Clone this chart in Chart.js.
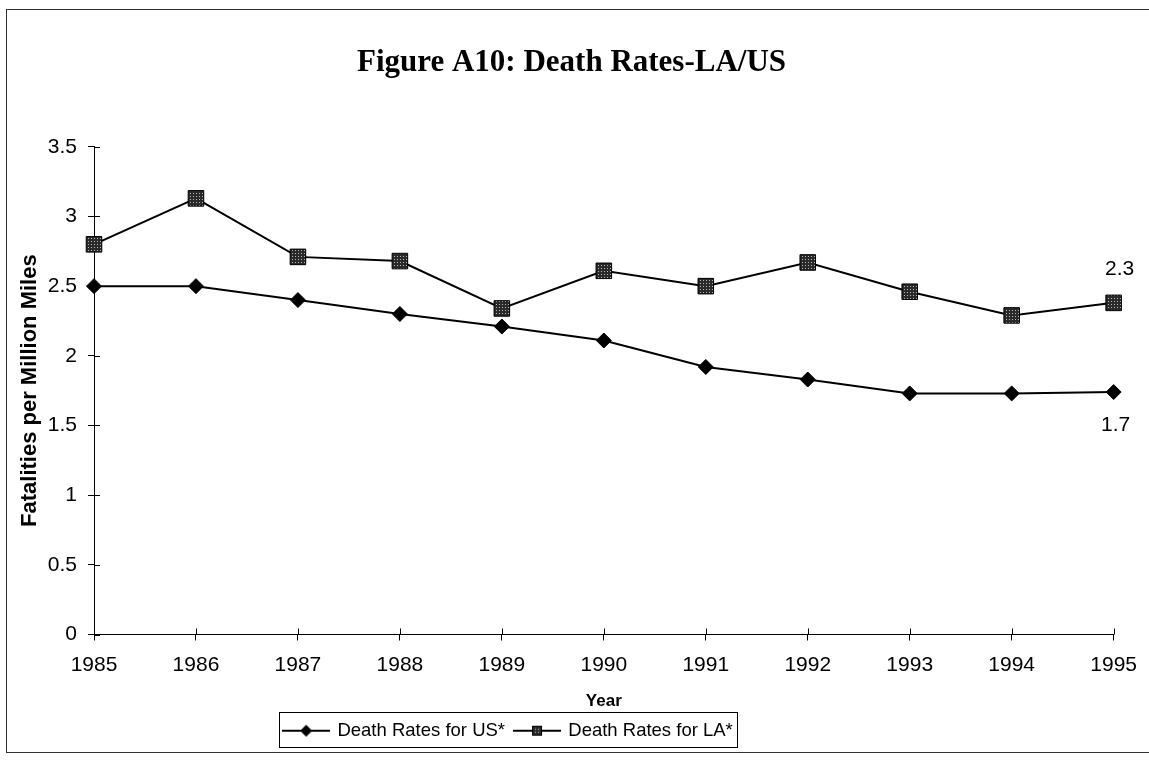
<!DOCTYPE html>
<html><head><meta charset="utf-8">
<script src="https://cdn.jsdelivr.net/npm/chart.js@4.4.1/dist/chart.umd.min.js"></script>
<style>html,body{margin:0;padding:0;background:#fff;}canvas{display:block;}</style>
</head><body>
<canvas id="c" width="1149" height="761"></canvas>
<script>
const years = ['1985','1986','1987','1988','1989','1990','1991','1992','1993','1994','1995'];
const usRates = [2.50, 2.50, 2.40, 2.30, 2.21, 2.11, 1.92, 1.83, 1.73, 1.73, 1.74];
const laRates = [2.80, 3.13, 2.71, 2.68, 2.34, 2.61, 2.50, 2.67, 2.46, 2.29, 2.38];
const usLabels = ['', '', '', '', '', '', '', '', '', '', '1.7'];
const laLabels = ['', '', '', '', '', '', '', '', '', '', '2.3'];
const yTickLabels = ['0', '0.5', '1', '1.5', '2', '2.5', '3', '3.5'];
const seriesNames = ['Death Rates for US*', 'Death Rates for LA*'];
const chartTitle = 'Figure A10: Death Rates-LA/US';
const xTitle = 'Year';
const yTitle = 'Fatalities per Million Miles';

const SANS = "'Liberation Sans', Arial, sans-serif";
const SERIF = "'Liberation Serif', 'Times New Roman', serif";

function makePattern() {
  const p = document.createElement('canvas'); p.width = 3; p.height = 3;
  const g = p.getContext('2d');
  g.fillStyle = '#2a2a2a'; g.fillRect(0, 0, 3, 3);
  g.fillStyle = '#b8b8b8'; g.fillRect(1, 1, 1, 1);
  return g.createPattern(p, 'repeat');
}
const squareFill = makePattern();

function legendImg(kind) {
  const c = document.createElement('canvas'); c.width = 48; c.height = 18;
  const g = c.getContext('2d');
  g.strokeStyle = '#000'; g.lineWidth = 2;
  g.beginPath(); g.moveTo(0, 9); g.lineTo(48, 9); g.stroke();
  if (kind === 'diamond') {
    g.fillStyle = '#000'; g.beginPath();
    g.moveTo(18, 9); g.lineTo(24, 3); g.lineTo(30, 9); g.lineTo(24, 15); g.closePath(); g.fill();
  } else {
    g.fillStyle = makePattern(); g.fillRect(19, 4, 10, 10);
    g.strokeStyle = '#000'; g.lineWidth = 1; g.strokeRect(19.5, 4.5, 9, 9);
  }
  return c;
}
const legendImgs = [legendImg('diamond'), legendImg('square')];

const extras = {
  id: 'extras',
  beforeDraw(chart) {
    const ctx = chart.ctx;
    ctx.save();
    ctx.fillStyle = '#fff'; ctx.fillRect(0, 0, chart.width, chart.height);
    ctx.strokeStyle = '#333'; ctx.lineWidth = 1;
    ctx.strokeRect(6.5, 9.5, 1150, 743);
    ctx.restore();
  },
  afterLayout(chart) {
    const L = chart.legend;
    L.left -= 57; L.right -= 57;
    const T = chart.titleBlock;
    T.left += 6; T.right += 6;
  },
  afterDraw(chart) {
    const ctx = chart.ctx;
    const x = chart.scales.x, y = chart.scales.y;
    ctx.save();
    ctx.strokeStyle = '#000'; ctx.lineWidth = 1;
    ctx.beginPath();
    for (let i = 0; i < y.ticks.length; i++) {
      const py = Math.round(y.getPixelForTick(i)) + 0.5;
      ctx.moveTo(x.left, py); ctx.lineTo(x.left + 6, py);
    }
    for (let i = 0; i < x.ticks.length; i++) {
      const px = Math.round(x.getPixelForTick(i)) + 0.5;
      ctx.moveTo(px, y.bottom); ctx.lineTo(px, y.bottom - 6);
    }
    ctx.stroke();
    // end-of-series labels
    ctx.fillStyle = '#000';
    ctx.font = '21px ' + SANS;
    ctx.textAlign = 'center'; ctx.textBaseline = 'middle';
    const m0 = chart.getDatasetMeta(0).data, m1 = chart.getDatasetMeta(1).data;
    usLabels.forEach((t, i) => { if (t) ctx.fillText(t, m0[i].x + 2, m0[i].y + 33); });
    laLabels.forEach((t, i) => { if (t) ctx.fillText(t, m1[i].x + 6, m1[i].y - 34); });
    // legend border
    const L = chart.legend;
    const lw = L.lineWidths[0];
    const start = (L.left + L.right + 10 - lw) / 2;
    const end = start + lw - 10;
    ctx.strokeStyle = '#000'; ctx.lineWidth = 1;
    ctx.strokeRect(Math.round(start - 5) + 0.5, Math.round(L.top) + 0.5, Math.round(end - start + 9), 35);
    ctx.restore();
  }
};

new Chart(document.getElementById('c'), {
  type: 'line',
  data: {
    labels: years,
    datasets: [
      { label: seriesNames[0], data: usRates, borderColor: '#000', borderWidth: 2,
        pointStyle: 'rectRot', pointRadius: 7.5, pointBackgroundColor: '#000', pointBorderColor: '#000',
        pointBorderWidth: 1, tension: 0 },
      { label: seriesNames[1], data: laRates, borderColor: '#000', borderWidth: 2,
        pointStyle: 'rect', pointRadius: 11, pointBackgroundColor: squareFill, pointBorderColor: '#000',
        pointBorderWidth: 1, tension: 0 }
    ]
  },
  options: {
    responsive: false, animation: false, devicePixelRatio: 1,
    layout: { padding: { left: 17, right: 35, top: 0, bottom: 11 } },
    plugins: {
      title: { display: true, text: chartTitle, color: '#000',
        font: { family: SERIF, size: 31, weight: 'bold' }, padding: { top: 44, bottom: 65.6 } },
      legend: { position: 'bottom',
        labels: { usePointStyle: true, pointStyleWidth: 44, padding: 10, color: '#000',
          font: { family: SANS, size: 18.5 },
          generateLabels: (chart) => chart.data.datasets.map((ds, i) => ({
            text: ds.label, pointStyle: legendImgs[i], fillStyle: '#000', strokeStyle: '#000',
            lineWidth: 0, hidden: false, datasetIndex: i, fontColor: '#000' })) } },
      tooltip: { enabled: false }
    },
    scales: {
      x: { type: 'category', offset: false,
        afterFit(s) { s.height = 77; },
        grid: { display: true, drawOnChartArea: false, drawTicks: true, tickLength: 6, color: '#000', offset: false },
        border: { display: true, color: '#000', width: 1 },
        ticks: { color: '#000', font: { family: SANS, size: 21 }, padding: 12, autoSkip: false, maxRotation: 0 },
        title: { display: true, text: xTitle, color: '#000', font: { family: SANS, size: 17, weight: 'bold' }, padding: { top: 0, bottom: 0 } } },
      y: { min: 0, max: 3.5,
        afterFit(s) { s.width = 77; },
        grid: { display: true, drawOnChartArea: false, drawTicks: true, tickLength: 6, color: '#000' },
        border: { display: true, color: '#000', width: 1 },
        ticks: { stepSize: 0.5, color: '#000', font: { family: SANS, size: 21 }, padding: 11,
          callback: (v, i) => yTickLabels[i] },
        title: { display: true, text: yTitle, color: '#000', font: { family: SANS, size: 22, weight: 'bold' }, padding: { top: 0, bottom: 0 } } }
    }
  },
  plugins: [extras]
});
</script>
</body></html>
